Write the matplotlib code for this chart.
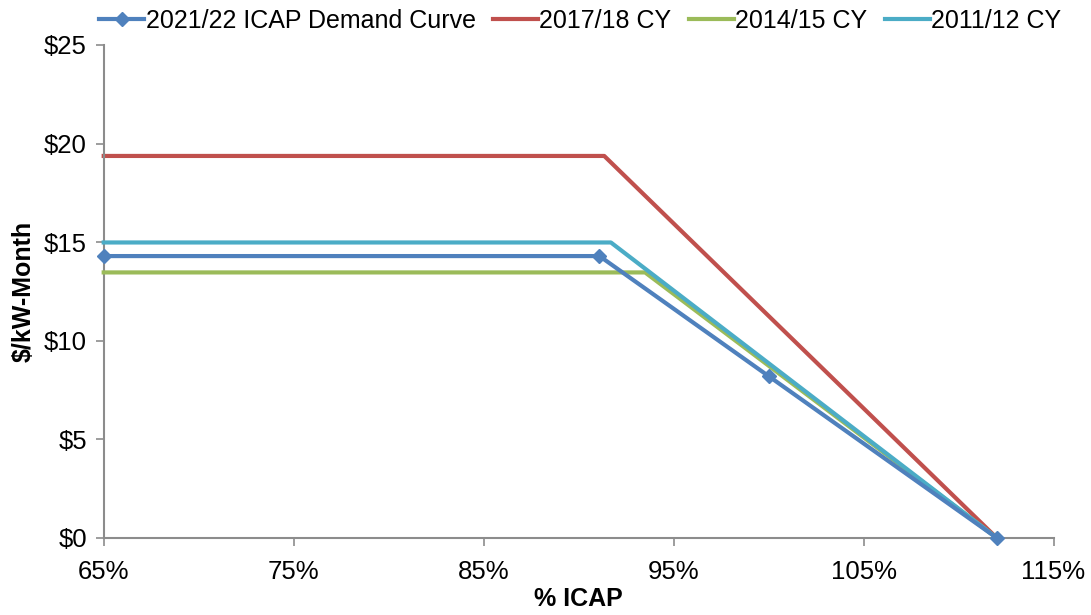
import matplotlib.pyplot as plt
from matplotlib.ticker import FuncFormatter, MultipleLocator

plt.rcParams['font.family'] = ['Liberation Sans', 'DejaVu Sans']

# % ICAP vs $/kW-Month
x_2122 = [65, 91.1, 100, 112]
y_2122 = [14.29, 14.29, 8.2, 0]
x_1718 = [65, 91.35, 112]
y_1718 = [19.37, 19.37, 0]
x_1415 = [65, 93.5, 112]
y_1415 = [13.46, 13.46, 0]
x_1112 = [65, 91.7, 112]
y_1112 = [14.98, 14.98, 0]
xticks = [65, 75, 85, 95, 105, 115]

labels = ['2021/22 ICAP Demand Curve', '2017/18 CY', '2014/15 CY', '2011/12 CY']
colors = ['#4F81BD', '#C0504D', '#9BBB59', '#4BACC6']

fig = plt.figure(figsize=(10.91, 6.15), dpi=100)
ax = fig.add_axes([103.7 / 1091, 1 - 537.7 / 615, (1053.5 - 103.7) / 1091, (537.7 - 45) / 615])

ax.plot(x_1718, y_1718, color=colors[1], lw=3, label=labels[1], zorder=2, clip_on=False)
ax.plot(x_1415, y_1415, color=colors[2], lw=3, label=labels[2], zorder=3, clip_on=False)
ax.plot(x_1112, y_1112, color=colors[3], lw=3, label=labels[3], zorder=4, clip_on=False)
ax.plot(x_2122, y_2122, color=colors[0], lw=3, marker='D', ms=7, label=labels[0], zorder=5, clip_on=False)

ax.set_xlim(65, 115)
ax.set_ylim(0, 25)
ax.set_xticks(xticks)
ax.yaxis.set_major_locator(MultipleLocator(5))
ax.xaxis.set_major_formatter(FuncFormatter(lambda v, p: f'{v:.0f}%'))
ax.yaxis.set_major_formatter(FuncFormatter(lambda v, p: f'${v:.0f}'))

for s in ['top', 'right']:
  ax.spines[s].set_visible(False)
for s in ['left', 'bottom']:
  ax.spines[s].set_color('#8c8c8c')
  ax.spines[s].set_linewidth(1.5)
ax.tick_params(axis='both', direction='out', length=6, width=1.2, color='#8c8c8c', labelsize=18.5, pad=6)
ax.tick_params(axis='x', pad=10)

ax.set_xlabel('% ICAP', fontsize=18, fontweight='bold', labelpad=2)
ax.set_ylabel('$/kW-Month', fontsize=18, fontweight='bold', labelpad=6)

h, l = ax.get_legend_handles_labels()
order = [3, 0, 1, 2]
fig.legend([h[i] for i in order], [l[i] for i in order], loc='upper center',
           bbox_to_anchor=(0.532, 1.022), ncol=4, frameon=False, fontsize=18,
           handlelength=1.8, handletextpad=0.05, columnspacing=0.7)

fig.savefig('out.png', dpi=100)
